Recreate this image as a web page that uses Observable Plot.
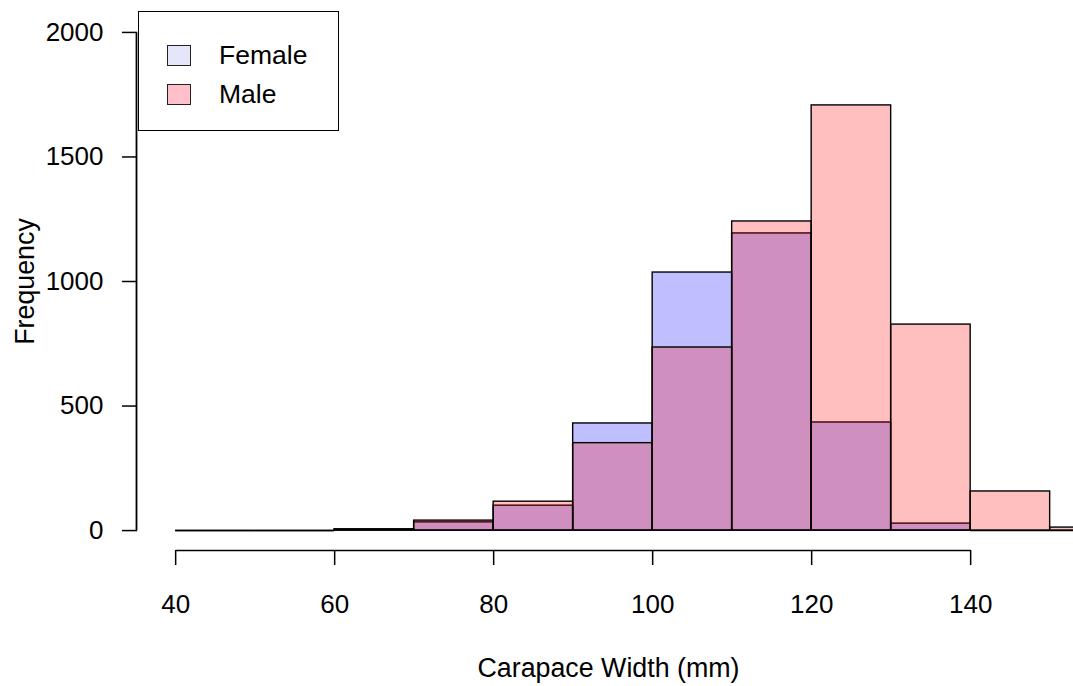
<!DOCTYPE html>
<html>
<head>
<meta charset="utf-8">
<script src="https://cdn.jsdelivr.net/npm/d3@7"></script>
<script src="https://cdn.jsdelivr.net/npm/@observablehq/plot@0.6"></script>
<style>
  html, body { margin: 0; padding: 0; background: #fff; overflow: hidden; }
  #wrap { position: relative; width: 1073px; height: 686px; font-family: "Liberation Sans", Arial, sans-serif; }
  #legend {
    position: absolute; left: 138px; top: 11px; width: 201px; height: 119.5px;
    box-sizing: border-box; border: 1.5px solid #000; background: #fff;
  }
  .item { position: absolute; left: 0; display: flex; align-items: center; font-size: 26.5px; color: #000; }
  .sw { width: 24px; height: 21px; box-sizing: border-box; border: 1.5px solid #222; margin-left: 28px; margin-right: 28px; }
</style>
</head>
<body>
<div id="wrap">
  <div id="chart"></div>
  <div id="legend"></div>
</div>
<script>
// Histogram bin edges (mm) and counts per bin
const binEdges = [40, 50, 60, 70, 80, 90, 100, 110, 120, 130, 140, 150, 160];
const female = [0, 0, 4, 33, 100, 430, 1036, 1193, 434, 28, 0, 0];
const male   = [0, 0, 5, 40, 116, 351, 735, 1241, 1707, 827, 157, 12];

// Axis ticks
const xTicks = [40, 60, 80, 100, 120, 140];
const yTicks = [0, 500, 1000, 1500, 2000];

// Series labels and colours
const seriesNames = ["Female", "Male"];
const seriesFill = ["rgba(0,0,255,0.25)", "rgba(255,0,0,0.25)"];
const legendFill = ["lavender", "pink"];

// Plot region limits (4% padding around the data limits, as in base R)
const xLim = [40, 160];
const yLim = [0, 2000];
const pad = (l) => [l[0] - 0.04 * (l[1] - l[0]), l[1] + 0.04 * (l[1] - l[0])];
const xDomain = pad(xLim);
const yDomain = pad(yLim);

const rows = female.map((f, i) => ({x1: binEdges[i], x2: binEdges[i + 1], female: f, male: male[i]}));

const barMarks = (key, fill) => [
  Plot.rectY(rows.filter(d => d[key] > 0), {
    x1: "x1", x2: "x2", y1: 0, y2: key,
    fill, stroke: "black", strokeWidth: 1.4
  }),
  Plot.ruleY(rows.filter(d => d[key] === 0), {
    x1: "x1", x2: "x2", y: 0, stroke: "black", strokeWidth: 1.4
  })
];

// Axis lines run from the first to the last tick
const yAxisLine = [{x: xDomain[0], y1: yTicks[0], y2: yTicks[yTicks.length - 1]}];
const xAxisLine = [{y: yDomain[0], x1: xTicks[0], x2: xTicks[xTicks.length - 1]}];

const chart = Plot.plot({
  width: 1073,
  height: 686,
  marginLeft: 137,
  marginRight: 0,
  marginTop: 12,
  marginBottom: 136,
  style: {fontFamily: "'Liberation Sans', Arial, sans-serif", fontSize: "26px", color: "#000", background: "#fff"},
  x: {domain: xDomain, range: [137, 137 + (xDomain[1] - xDomain[0]) * 7.95], label: null},
  y: {domain: yDomain, label: null},
  marks: [
    ...barMarks("female", seriesFill[0]),
    ...barMarks("male", seriesFill[1]),
    // y axis
    Plot.link(yAxisLine, {x1: "x", x2: "x", y1: "y1", y2: "y2", dx: -1, stroke: "black", strokeWidth: 1.8}),
    Plot.axisY(yTicks, {anchor: "left", tickSize: 15, tickPadding: 19, strokeWidth: 1.5, tickFormat: d => String(d), label: null}),
    // x axis
    Plot.link(xAxisLine, {x1: "x1", x2: "x2", y1: "y", y2: "y", stroke: "black", strokeWidth: 1.6}),
    Plot.axisX(xTicks, {anchor: "bottom", tickSize: 15, tickPadding: 29, strokeWidth: 1.5, tickFormat: d => String(d), label: null}),
    // axis titles
    Plot.text(["Carapace Width (mm)"], {frameAnchor: "bottom", dx: 3, dy: 118, textAnchor: "middle", lineAnchor: "middle", fill: "black", fontSize: 26.8}),
    Plot.text(["Frequency"], {frameAnchor: "left", dx: -112, rotate: -90, textAnchor: "middle", lineAnchor: "middle", fill: "black", fontSize: 26.8})
  ]
});
document.getElementById("chart").appendChild(chart);

// Legend
const legend = document.getElementById("legend");
const itemTops = [28, 67];
seriesNames.forEach((name, i) => {
  const item = document.createElement("div");
  item.className = "item";
  item.style.top = itemTops[i] + "px";
  const sw = document.createElement("div");
  sw.className = "sw";
  sw.style.background = legendFill[i];
  const label = document.createElement("span");
  label.textContent = name;
  item.appendChild(sw);
  item.appendChild(label);
  legend.appendChild(item);
});
</script>
</body>
</html>
